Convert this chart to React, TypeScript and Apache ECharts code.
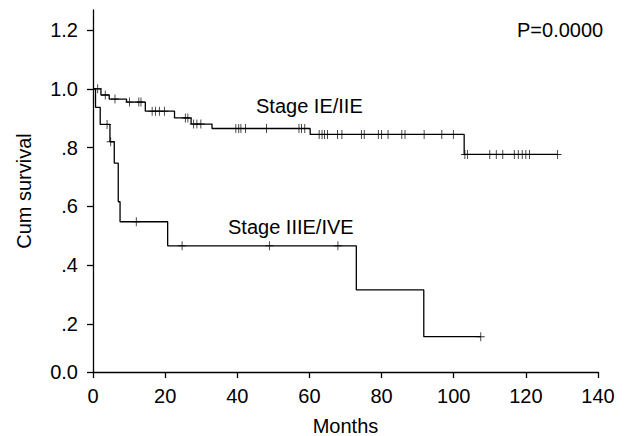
import React, { useEffect, useRef } from "react";
import * as echarts from "echarts";

// ---- Data ----
// Stage IE/IIE: step times (months) and survival after each step
const upperStepMonths = [0, 2.2, 4.5, 9.3, 14.5, 22.6, 27.2, 33.0, 60.2, 102.9];
const upperStepSurv = [1.0, 0.979, 0.965, 0.955, 0.924, 0.901, 0.88, 0.865, 0.845, 0.777];
const upperEndMonth = 128.8;
const upperCensorMonths = [
  1.3, 3.4, 6.1, 10.1, 12.7, 13.3, 16.4, 17.3, 18.4, 19.8, 25.6, 26.3, 27.9, 28.8, 29.9,
  39.6, 40.4, 41.0, 42.3, 48.1, 57.1, 57.8, 58.7, 62.7, 63.5, 64.2, 65.0, 67.8, 69.0,
  74.4, 75.2, 79.1, 80.0, 81.8, 85.6, 86.5, 91.8, 96.7, 99.9, 103.1, 103.8, 110.0,
  111.8, 113.6, 116.8, 117.9, 119.0, 120.0, 121.0, 128.8,
];

// Stage IIIE/IVE
const lowerStepMonths = [0, 0.7, 2.0, 4.7, 5.9, 7.0, 7.5, 20.7, 73.0, 91.7];
const lowerStepSurv = [1.0, 0.937, 0.879, 0.82, 0.747, 0.616, 0.548, 0.466, 0.316, 0.157];
const lowerEndMonth = 107.5;
const lowerCensorMonths = [3.9, 4.9, 12.0, 24.7, 48.9, 67.9, 107.5];

// Axis ticks (the reference's 0.0 tick sits slightly above a true zero)
const yTickValues = [0.037, 0.2, 0.4, 0.6, 0.8, 1.0, 1.2];
const yTickLabels = ["0.0", ".2", ".4", ".6", ".8", "1.0", "1.2"];
const Y_MIN = 0.037;
const Y_MAX = 1.268;
const xTickLabels = ["0", "20", "40", "60", "80", "100", "120", "140"];

const FONT = "'Liberation Sans', Arial, Helvetica, sans-serif";
const PLUS = "path://M4,0L5,0L5,4L9,4L9,5L5,5L5,9L4,9L4,5L0,5L0,4L4,4Z";

function stepLine(months: number[], surv: number[], end: number) {
  const pts = months.map((m, i) => [m, surv[i]]);
  pts.push([end, surv[surv.length - 1]]);
  return pts;
}

function censorPoints(months: number[], surv: number[], censors: number[]) {
  return censors.map((c) => {
    let v = surv[0];
    for (let i = 0; i < months.length; i++) {
      if (months[i] <= c + 1e-9) v = surv[i];
    }
    return [c, v];
  });
}

export default function App() {
  const ref = useRef<HTMLDivElement>(null);

  useEffect(() => {
    if (!ref.current) return;
    const chart = echarts.init(ref.current, undefined, { renderer: "svg" });
    const axisLineStyle = { color: "#000", width: 1.3 };
    const option = {
      animation: false,
      backgroundColor: "#fff",
      textStyle: { fontFamily: FONT, color: "#000" },
      grid: { left: 93, right: 32, top: 10, bottom: 64, containLabel: false, outerBoundsMode: "none" },
      xAxis: {
        type: "value",
        min: 0,
        max: 140,
        interval: 20,
        name: "Months",
        nameLocation: "middle",
        nameGap: 44,
        nameTextStyle: { fontSize: 20, color: "#000", fontFamily: FONT },
        axisLine: { show: true, onZero: false, lineStyle: axisLineStyle },
        axisTick: { show: true, length: 6, lineStyle: axisLineStyle },
        axisLabel: {
          fontSize: 20,
          color: "#000",
          fontFamily: FONT,
          margin: 14,
          formatter: (v: number) => xTickLabels[Math.round(v / 20)] ?? String(v),
        },
        splitLine: { show: false },
      },
      yAxis: {
        type: "value",
        min: Y_MIN,
        max: Y_MAX,
        name: "Cum survival",
        nameLocation: "middle",
        nameGap: 59,
        nameRotate: 90,
        nameTextStyle: { fontSize: 20, color: "#000", fontFamily: FONT },
        axisLine: { show: true, onZero: false, lineStyle: axisLineStyle },
        axisTick: { show: true, length: 6, customValues: yTickValues, lineStyle: axisLineStyle },
        axisLabel: {
          fontSize: 20,
          color: "#000",
          fontFamily: FONT,
          margin: 15,
          showMinLabel: true,
          showMaxLabel: true,
          customValues: yTickValues,
          formatter: (v: number) => {
            const i = yTickValues.findIndex((t) => Math.abs(t - v) < 1e-6);
            return i >= 0 ? yTickLabels[i] : "";
          },
        },
        splitLine: { show: false },
      },
      series: [
        {
          type: "line",
          step: "end",
          data: stepLine(upperStepMonths, upperStepSurv, upperEndMonth),
          symbol: "none",
          lineStyle: { color: "#000", width: 1.3 },
        },
        {
          type: "line",
          step: "end",
          data: stepLine(lowerStepMonths, lowerStepSurv, lowerEndMonth),
          symbol: "none",
          lineStyle: { color: "#000", width: 1.3 },
        },
        {
          type: "scatter",
          data: censorPoints(upperStepMonths, upperStepSurv, upperCensorMonths),
          symbol: PLUS,
          symbolSize: [8, 9],
          itemStyle: { color: "#000" },
        },
        {
          type: "scatter",
          data: censorPoints(lowerStepMonths, lowerStepSurv, lowerCensorMonths),
          symbol: PLUS,
          symbolSize: [8, 9],
          itemStyle: { color: "#000" },
        },
      ],
      graphic: [
        {
          type: "text",
          x: 517,
          y: 30,
          style: { text: "P=0.0000", fontSize: 20, fontFamily: FONT, fill: "#000", align: "left", verticalAlign: "middle" },
        },
        {
          type: "text",
          x: 256,
          y: 106,
          style: { text: "Stage IE/IIE", fontSize: 20, fontFamily: FONT, fill: "#000", align: "left", verticalAlign: "middle" },
        },
        {
          type: "text",
          x: 228,
          y: 227,
          style: { text: "Stage IIIE/IVE", fontSize: 20, fontFamily: FONT, fill: "#000", align: "left", verticalAlign: "middle" },
        },
      ],
    };
    chart.setOption(option as any);
    return () => chart.dispose();
  }, []);

  return (
    <div
      ref={ref}
      style={{ position: "absolute", left: 0, top: 0, width: 630, height: 436, background: "#fff" }}
    />
  );
}
